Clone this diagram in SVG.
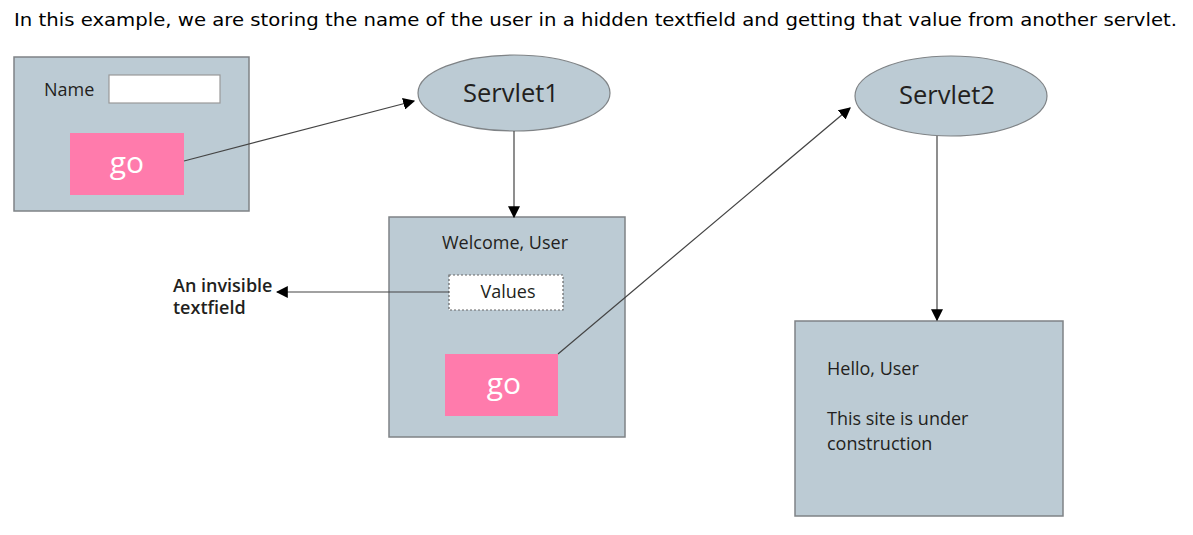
<svg xmlns="http://www.w3.org/2000/svg" width="1193" height="535" viewBox="0 0 1193 535">
<defs>
<style>
.box{fill:#bccbd4;stroke:#7f8386;stroke-width:1.5}
.go{fill:#ff7bac}
.gotxt{font-family:"Open Sans","Liberation Sans",sans-serif;font-size:30px;fill:#ffffff;text-anchor:middle}
.lbl{font-family:"Open Sans","Liberation Sans",sans-serif;font-size:18px;fill:#231f20}
.svl{font-family:"Open Sans","Liberation Sans",sans-serif;font-size:25.5px;fill:#231f20;text-anchor:middle}
.conn{stroke:#444;stroke-width:1.2;fill:none;marker-end:url(#ah)}
</style>
<marker id="ah" viewBox="0 0 10 10" refX="9" refY="5" markerWidth="12" markerHeight="12" markerUnits="userSpaceOnUse" orient="auto">
<path d="M0,0 L10,5 L0,10 z" fill="#000"/>
</marker>
</defs>
<rect width="1193" height="535" fill="#ffffff"/>
<text x="14" y="26" font-family="'DejaVu Sans',Verdana,sans-serif" font-size="17" fill="#000" textLength="1163" lengthAdjust="spacingAndGlyphs">In this example, we are storing the name of the user in a hidden textfield and getting that value from another servlet.</text>

<g id="form1">
<rect class="box" x="14" y="57" width="235" height="154"/>
<text class="lbl" x="44" y="96">Name</text>
<rect x="109" y="75" width="111" height="28" fill="#fff" stroke="#999" stroke-width="1.2"/>
<rect class="go" x="70" y="133" width="114" height="62"/>
<text class="gotxt" x="127" y="173">go</text>
</g>

<g id="servlet1">
<ellipse cx="514" cy="93" rx="96" ry="38" fill="#bccbd4" stroke="#7f8386" stroke-width="1.2"/>
<text class="svl" x="511" y="102">Servlet1</text>
</g>

<g id="welcome">
<rect class="box" x="389" y="217" width="236" height="220"/>
<text class="lbl" x="505" y="249" text-anchor="middle">Welcome, User</text>
<rect x="449" y="275" width="114" height="35" fill="#fff" stroke="#666" stroke-width="1.2" stroke-dasharray="2,2"/>
<text class="lbl" x="508" y="298" text-anchor="middle" font-size="17">Values</text>
<rect class="go" x="445" y="354" width="113" height="62"/>
<text class="gotxt" x="504" y="394">go</text>
</g>

<g id="note">
<text class="lbl" x="173" y="292" font-weight="600" font-size="16">An invisible</text>
<text class="lbl" x="173" y="314" font-weight="600" font-size="16">textfield</text>
</g>

<g id="servlet2">
<ellipse cx="951" cy="96" rx="96" ry="40" fill="#bccbd4" stroke="#7f8386" stroke-width="1.2"/>
<text class="svl" x="947" y="104">Servlet2</text>
</g>

<g id="hello">
<rect class="box" x="795" y="321" width="268" height="195"/>
<text class="lbl" x="827" y="375">Hello, User</text>
<text class="lbl" x="827" y="425">This site is under</text>
<text class="lbl" x="827" y="450">construction</text>
</g>

<g id="connectors">
<line class="conn" x1="184" y1="161" x2="414" y2="101"/>
<line class="conn" x1="514" y1="131" x2="514" y2="217"/>
<line class="conn" x1="449" y1="292" x2="277" y2="292"/>
<line class="conn" x1="558" y1="354" x2="850" y2="108"/>
<line class="conn" x1="937" y1="136" x2="937" y2="320"/>
</g>
</svg>
